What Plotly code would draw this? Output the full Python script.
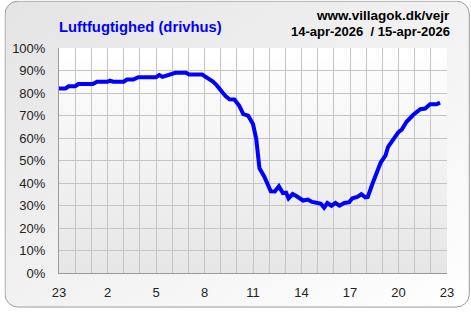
import base64
import plotly.graph_objects as go

# ---- data (hours since 23:00 on 14-apr, relative humidity %) ----
hours = [0.0, 0.4, 0.6, 1.0, 1.2, 2.1, 2.35, 3.0, 3.15, 3.35, 4.0, 4.2, 4.6, 4.9,
         6.0, 6.2, 6.4, 6.65, 7.0, 7.2, 7.85, 8.05, 8.85, 9.2, 9.5, 9.75, 10.05,
         10.3, 10.55, 10.85, 11.15, 11.4, 11.7, 12.0, 12.2, 12.4, 12.7, 13.1,
         13.35, 13.6, 13.85, 14.05, 14.2, 14.45, 14.65, 14.85, 15.1, 15.4, 15.65,
         16.0, 16.2, 16.4, 16.6, 16.85, 17.1, 17.35, 17.65, 17.95, 18.15, 18.45,
         18.7, 18.95, 19.1, 19.4, 19.7, 19.9, 20.2, 20.35, 20.7, 21.0, 21.2, 21.5,
         21.9, 22.35, 22.65, 22.95, 23.35, 23.57]
humidity = [82, 82, 83, 83, 84, 84, 85, 85, 85.5, 85, 85, 86, 86, 87,
            87, 88, 87.2, 87.8, 88.2, 89, 89, 88.2, 88.2, 86.7, 85.2, 83.5, 80.8,
            78.6, 77.2, 77.1, 74.3, 70.6, 69.9, 66.2, 59.6, 46.5, 42.8, 36.3,
            36.2, 38.5, 35.5, 35.7, 33.2, 35.1, 34.3, 33.4, 32.2, 32.6, 31.6,
            31.1, 30.8, 29.0, 31.1, 29.9, 31.1, 29.9, 31.1, 31.5, 33.2, 33.8,
            35.0, 33.6, 33.8, 39.9, 45, 49.1, 52.3, 56, 59.6, 62.6, 63.7, 67.2,
            70.2, 72.8, 73.1, 75, 75, 75.7]
x_tick_labels = ["23", "2", "5", "8", "11", "14", "17", "20", "23"]
y_tick_values = [0, 10, 20, 30, 40, 50, 60, 70, 80, 90, 100]

title_text = "Luftfugtighed (drivhus)"
site_text = "www.villagok.dk/vejr"
date_text = "14-apr-2026  / 15-apr-2026"

W, H = 471, 312
L, R, T, B = 55, 24, 48, 36
PW, PH = W - L - R, H - T - B

FONT = "Liberation Sans, Arial, sans-serif"

# background artwork (rounded panel + plot-area gradient)
svg = f'''<svg xmlns="http://www.w3.org/2000/svg" width="{W}" height="{H}" viewBox="0 0 {W} {H}">
<defs>
<linearGradient id="bg" x1="0" y1="0" x2="1" y2="1">
<stop offset="0" stop-color="#e4e4e4"/><stop offset="1" stop-color="#ffffff"/></linearGradient>
<linearGradient id="pa" x1="0" y1="0" x2="0" y2="1">
<stop offset="0" stop-color="#ffffff"/><stop offset="1" stop-color="#e6e6e6"/></linearGradient>
</defs>
<rect x="0.5" y="0.5" width="{W-2}" height="{H-2}" rx="13" ry="13" fill="url(#bg)" stroke="#9a9a9a" stroke-width="1"/>
<rect x="{L}" y="{T}" width="{PW}" height="{PH}" fill="url(#pa)"/>
</svg>'''
src = "data:image/svg+xml;base64," + base64.b64encode(svg.encode()).decode()

tickvals = list(range(25))
ticktext = [x_tick_labels[i // 3] if i % 3 == 0 else "" for i in tickvals]

fig = go.Figure()
fig.add_trace(go.Scatter(x=hours, y=humidity, mode="lines",
                         line=dict(color="#0000ff", width=4),
                         hoverinfo="skip", showlegend=False))

fig.update_layout(
    width=W, height=H,
    margin=dict(l=L, r=R, t=T, b=B, pad=0),
    paper_bgcolor="white",
    plot_bgcolor="rgba(0,0,0,0)",
    font=dict(family=FONT, size=13, color="#222222"),
    images=[dict(source=src, xref="paper", yref="paper",
                 x=-L / PW, y=1 + T / PH, sizex=W / PW, sizey=H / PH,
                 xanchor="left", yanchor="top", sizing="stretch", layer="below")],
    annotations=[
        dict(text=title_text, xref="paper", yref="paper",
             x=(53 - L) / PW, y=1 + (T - 27) / PH, xanchor="left", yanchor="middle",
             showarrow=False, font=dict(family=FONT, size=14.8, color="#0000ff", weight="bold")),
        dict(text=site_text, xref="paper", yref="paper",
             x=(452 - L) / PW, y=1 + (T - 15) / PH, xanchor="right", yanchor="middle",
             showarrow=False, font=dict(family=FONT, size=13.5, color="#000000", weight="bold")),
        dict(text=date_text, xref="paper", yref="paper",
             x=(452 - L) / PW, y=1 + (T - 31) / PH, xanchor="right", yanchor="middle",
             showarrow=False, font=dict(family=FONT, size=13, color="#000000", weight="bold")),
    ],
)

fig.update_xaxes(range=[0, 24], tickmode="array", tickvals=tickvals, ticktext=ticktext,
                 showgrid=True, gridcolor="#c4c4c4", gridwidth=1,
                 showline=True, linecolor="#9a9a9a", linewidth=1,
                 ticks="outside", ticklen=7, tickcolor="rgba(0,0,0,0)",
                 zeroline=False, fixedrange=True,
                 tickfont=dict(family=FONT, size=13, color="#222222"))
fig.update_yaxes(range=[0, 100], tickmode="array", tickvals=y_tick_values,
                 ticktext=[f"{v}%" for v in y_tick_values],
                 showgrid=True, gridcolor="#c4c4c4", gridwidth=1,
                 showline=True, linecolor="#9a9a9a", linewidth=1,
                 ticks="outside", ticklen=10, tickcolor="rgba(0,0,0,0)",
                 zeroline=False, fixedrange=True,
                 tickfont=dict(family=FONT, size=13, color="#222222"))

fig.write_html("out.html", config={"displayModeBar": False})
